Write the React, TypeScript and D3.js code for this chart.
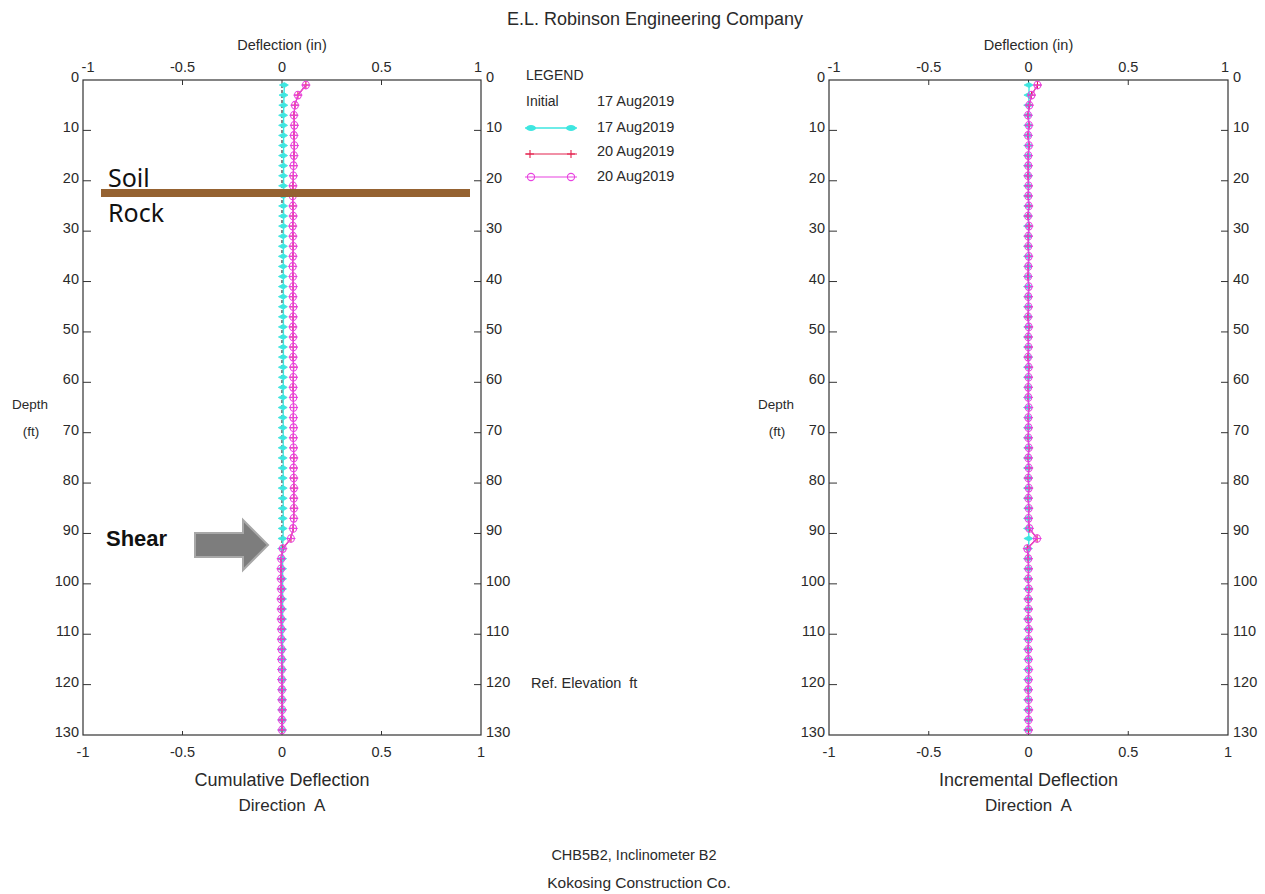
import React from "react";
import * as d3 from "d3";

// ---------- data ----------
const depths = [1, 3, 5, 7, 9, 11, 13, 15, 17, 19, 21, 23, 25, 27, 29, 31, 33, 35, 37, 39, 41, 43, 45, 47, 49, 51, 53, 55, 57, 59, 61, 63, 65, 67, 69, 71, 73, 75, 77, 79, 81, 83, 85, 87, 89, 91, 93, 95, 97, 99, 101, 103, 105, 107, 109, 111, 113, 115, 117, 119, 121, 123, 125, 127, 129];

// cumulative deflection (in)
const cumInitial = [0, 0, 0, 0, 0, 0, 0, 0, 0, 0, 0, 0, 0, 0, 0, 0, 0, 0, 0, 0, 0, 0, 0, 0, 0, 0, 0, 0, 0, 0, 0, 0, 0, 0, 0, 0, 0, 0, 0, 0, 0, 0, 0, 0, 0, 0, 0, 0, 0, 0, 0, 0, 0, 0, 0, 0, 0, 0, 0, 0, 0, 0, 0, 0, 0];
const cum17Aug = [0.012, 0.01, 0.009, 0.008, 0.008, 0.008, 0.008, 0.008, 0.008, 0.008, 0.008, 0.008, 0.008, 0.008, 0.008, 0.007, 0.007, 0.007, 0.007, 0.007, 0.007, 0.007, 0.007, 0.007, 0.007, 0.007, 0.007, 0.007, 0.007, 0.007, 0.006, 0.006, 0.006, 0.006, 0.006, 0.006, 0.006, 0.006, 0.006, 0.006, 0.006, 0.006, 0.006, 0.006, 0.006, 0.005, 0.003, 0.003, 0.003, 0.003, 0.003, 0.003, 0.003, 0.003, 0.003, 0.003, 0.003, 0.003, 0.003, 0.003, 0.003, 0.003, 0.003, 0.003, 0.003];
const cum20Aug = [0.12, 0.08, 0.065, 0.06, 0.062, 0.06, 0.062, 0.06, 0.058, 0.057, 0.055, 0.054, 0.055, 0.056, 0.054, 0.055, 0.056, 0.055, 0.054, 0.055, 0.056, 0.055, 0.057, 0.056, 0.055, 0.056, 0.057, 0.056, 0.058, 0.057, 0.056, 0.057, 0.058, 0.057, 0.058, 0.057, 0.058, 0.059, 0.058, 0.059, 0.06, 0.059, 0.06, 0.059, 0.056, 0.045, 0.004, -0.004, -0.005, -0.005, -0.004, -0.005, -0.004, -0.004, -0.003, -0.003, -0.002, -0.002, -0.001, -0.001, 0, 0, 0.001, 0, 0];

// incremental deflection (in)
const inc17Aug = [0.003, 0.002, 0.001, 0, 0.001, 0, 0.001, 0, 0, 0.001, 0, 0, 0.001, 0, 0, 0.001, 0, 0, 0.001, 0, 0, 0.001, 0, 0, 0.001, 0, 0, 0.001, 0, 0, 0.001, 0, 0, 0.001, 0, 0, 0.001, 0, 0, 0.001, 0, 0, 0.001, 0, 0, 0.002, 0, 0, 0.001, 0, 0, 0.001, 0, 0, 0.001, 0, 0, 0.001, 0, 0, 0.001, 0, 0, 0.001, 0];
const inc20Aug = [0.045, 0.015, 0.004, -0.002, 0.002, -0.002, 0.002, -0.001, -0.001, -0.002, 0, -0.001, 0.001, -0.002, 0.002, -0.001, -0.001, 0.001, -0.001, -0.002, 0.001, -0.001, 0, -0.002, 0.001, -0.001, 0, -0.002, 0.001, 0, -0.001, -0.001, 0.001, -0.001, 0, -0.001, 0.001, -0.001, 0.001, -0.001, 0.001, -0.001, 0.001, 0, 0.004, 0.043, -0.006, -0.001, 0, -0.001, 0.001, -0.001, 0, -0.001, 0.001, 0, -0.001, 0, 0.001, 0, -0.001, 0, 0.001, 0, 0];

const xTicks = [-1, -0.5, 0, 0.5, 1];
const depthTicks = [0, 10, 20, 30, 40, 50, 60, 70, 80, 90, 100, 110, 120, 130];

const legendRows = [
  { label: "Initial", date: "17 Aug2019", kind: "initial" },
  { label: "", date: "17 Aug2019", kind: "cyan" },
  { label: "", date: "20 Aug2019", kind: "red" },
  { label: "", date: "20 Aug2019", kind: "magenta" },
];

// ---------- styles ----------
const FONT = "'Liberation Sans', Arial, sans-serif";
const TXT = "#2a2a2a";
const CYAN = "#3ee6e0";
const RED = "#e3224e";
const MAGENTA = "#e843e0";
const AXIS = "#333";
const TICK_FS = 14.5;

const yScale = d3.scaleLinear().domain([0, 130]).range([80, 735]);

type Pt = [number, number];

function CyanMarker({ x, y }: { x: number; y: number }) {
  return <path d={`M${x - 5},${y} L${x},${y - 2.5} L${x + 4},${y} L${x},${y + 2.5} Z`} fill={CYAN} stroke={CYAN} strokeWidth={0.8} />;
}
function RedMarker({ x, y }: { x: number; y: number }) {
  return (
    <g stroke={RED} strokeWidth={1.1}>
      <line x1={x - 4} x2={x + 4} y1={y} y2={y} />
      <line x1={x} x2={x} y1={y - 4} y2={y + 4} />
    </g>
  );
}
function MagentaMarker({ x, y }: { x: number; y: number }) {
  return (
    <g stroke={MAGENTA} strokeWidth={1.1} fill="none">
      <ellipse cx={x} cy={y} rx={3.4} ry={3.8} />
      <line x1={x - 4.5} x2={x + 4.5} y1={y} y2={y} />
    </g>
  );
}

function Panel({
  x0,
  x1,
  series,
  showInitial,
  titleLines,
}: {
  x0: number;
  x1: number;
  series: { cyan: number[]; red: number[] };
  showInitial: boolean;
  titleLines: string[];
}) {
  const xs = d3.scaleLinear().domain([-1, 1]).range([x0, x1]);
  const line = d3
    .line<Pt>()
    .x((d) => xs(d[0]))
    .y((d) => yScale(d[1]));
  const cyanPts: Pt[] = depths.map((d, i) => [series.cyan[i], d]);
  const redPts: Pt[] = depths.map((d, i) => [series.red[i], d]);
  const initPts: Pt[] = depths.map((d, i) => [cumInitial[i], d]);
  const top = yScale(0);
  const bot = yScale(130);
  const cx = xs(0);
  return (
    <g>
      {/* frame */}
      <rect x={x0} y={top} width={x1 - x0} height={bot - top} fill="none" stroke={AXIS} strokeWidth={1.2} />
      {/* x ticks */}
      {xTicks.map((t) => (
        <g key={"xt" + t}>
          {t !== -1 && t !== 1 && (
            <>
              <line x1={xs(t)} x2={xs(t)} y1={top} y2={top + 5} stroke={AXIS} />
              <line x1={xs(t)} x2={xs(t)} y1={bot - 4} y2={bot} stroke={AXIS} />
            </>
          )}
          <text
            x={xs(t) + (t === -1 ? 5 : t === 1 ? -3 : 0)}
            y={72}
            textAnchor="middle"
            fontFamily={FONT}
            fontSize={TICK_FS}
            fill={TXT}
          >
            {String(t)}
          </text>
          <text x={xs(t)} y={757} textAnchor="middle" fontFamily={FONT} fontSize={TICK_FS} fill={TXT}>
            {String(t)}
          </text>
        </g>
      ))}
      {/* depth ticks */}
      {depthTicks.map((t) => (
        <g key={"yt" + t}>
          {t !== 0 && t !== 130 && (
            <>
              <line x1={x0} x2={x0 + 8} y1={yScale(t)} y2={yScale(t)} stroke={AXIS} />
              <line x1={x1 - 7} x2={x1} y1={yScale(t)} y2={yScale(t)} stroke={AXIS} />
            </>
          )}
          <text x={x0 - 4} y={yScale(t) + 2} textAnchor="end" fontFamily={FONT} fontSize={TICK_FS} fill={TXT}>
            {t}
          </text>
          <text x={x1 + 5} y={yScale(t) + 2} textAnchor="start" fontFamily={FONT} fontSize={TICK_FS} fill={TXT}>
            {t}
          </text>
        </g>
      ))}
      {/* axis titles */}
      <text x={cx} y={50} textAnchor="middle" fontFamily={FONT} fontSize={14.5} fill={TXT}>
        Deflection (in)
      </text>
      <text x={x0 - 53} y={409} textAnchor="middle" fontFamily={FONT} fontSize={13.5} fill={TXT}>
        Depth
      </text>
      <text x={x0 - 52} y={436} textAnchor="middle" fontFamily={FONT} fontSize={13.5} fill={TXT}>
        (ft)
      </text>
      {titleLines.map((s, i) => (
        <text key={s} x={cx} y={786 + i * 25} textAnchor="middle" fontFamily={FONT} fontSize={i === 0 ? 18 : 17} fill={TXT} xmlSpace="preserve">
          {s}
        </text>
      ))}
      {/* data */}
      {showInitial && (
        <path d={line(initPts) || ""} fill="none" stroke="#111" strokeWidth={1} strokeDasharray="3,2" />
      )}
      <path d={line(cyanPts) || ""} fill="none" stroke={CYAN} strokeWidth={1.4} />
      {cyanPts.map((p, i) => (
        <CyanMarker key={"c" + i} x={xs(p[0])} y={yScale(p[1])} />
      ))}
      <path d={line(redPts) || ""} fill="none" stroke={RED} strokeWidth={1.2} />
      {redPts.map((p, i) => (
        <RedMarker key={"r" + i} x={xs(p[0])} y={yScale(p[1])} />
      ))}
      <path d={line(redPts) || ""} fill="none" stroke={MAGENTA} strokeWidth={1.1} />
      {redPts.map((p, i) => (
        <MagentaMarker key={"m" + i} x={xs(p[0])} y={yScale(p[1])} />
      ))}
    </g>
  );
}

export default function App() {
  return (
    <svg
      width={1265}
      height={894}
      viewBox="0 0 1265 894"
      style={{ position: "absolute", left: 0, top: 0, background: "#fff" }}
    >
      <rect x={0} y={0} width={1265} height={894} fill="#fff" />
      <text x={655} y={25} textAnchor="middle" fontFamily={FONT} fontSize={18} fill={TXT}>
        E.L. Robinson Engineering Company
      </text>

      <Panel x0={83} x1={481} series={{ cyan: cum17Aug, red: cum20Aug }} showInitial={true} titleLines={["Cumulative Deflection", "Direction  A"]} />
      <Panel x0={829} x1={1228} series={{ cyan: inc17Aug, red: inc20Aug }} showInitial={false} titleLines={["Incremental Deflection", "Direction  A"]} />

      {/* legend */}
      <text x={526} y={80} fontFamily={FONT} fontSize={14} fill={TXT}>
        LEGEND
      </text>
      {legendRows.map((r, i) => {
        const y = [106, 132, 156, 181][i];
        const ly = [0, 128, 154, 177][i];
        return (
          <g key={"lg" + i}>
            {r.label && (
              <text x={526} y={y} fontFamily={FONT} fontSize={14} fill={TXT}>
                {r.label}
              </text>
            )}
            {r.kind === "cyan" && (
              <g>
                <line x1={525} x2={577} y1={ly} y2={ly} stroke={CYAN} strokeWidth={1.4} />
                <ellipse cx={531} cy={ly} rx={5} ry={3} fill={CYAN} />
                <ellipse cx={571} cy={ly} rx={5} ry={3} fill={CYAN} />
              </g>
            )}
            {r.kind === "red" && (
              <g>
                <line x1={525} x2={577} y1={ly} y2={ly} stroke={RED} strokeWidth={1.2} />
                <RedMarker x={530} y={ly} />
                <RedMarker x={571} y={ly} />
              </g>
            )}
            {r.kind === "magenta" && (
              <g>
                <line x1={525} x2={577} y1={ly} y2={ly} stroke={MAGENTA} strokeWidth={1.1} />
                <circle cx={531} cy={ly} r={3.6} fill="none" stroke={MAGENTA} strokeWidth={1.1} />
                <circle cx={571} cy={ly} r={3.6} fill="none" stroke={MAGENTA} strokeWidth={1.1} />
              </g>
            )}
            <text x={597} y={y} fontFamily={FONT} fontSize={14.5} fill={TXT}>
              {r.date}
            </text>
          </g>
        );
      })}

      <text x={531} y={688} fontFamily={FONT} fontSize={14.5} fill={TXT} xmlSpace="preserve">
        Ref. Elevation  ft
      </text>

      {/* annotations */}
      <rect x={101} y={189} width={369} height={8} fill="#956231" />
      <text x={108} y={187} fontFamily="'Noto Sans', sans-serif" fontSize={25} fill="#111">
        Soil
      </text>
      <text x={108} y={222} fontFamily="'Noto Sans', sans-serif" fontSize={25} fill="#111">
        Rock
      </text>
      <text x={106} y={546} fontFamily={FONT} fontSize={22} fontWeight="bold" fill="#111">
        Shear
      </text>
      <path
        d="M195,533 L243,533 L243,520 L268,545 L243,570 L243,557 L195,557 Z"
        fill="#7d7d7d"
        stroke="#a8a8a8"
        strokeWidth={2}
      />

      <text x={634} y={860} textAnchor="middle" fontFamily={FONT} fontSize={14.5} fill={TXT}>
        CHB5B2, Inclinometer B2
      </text>
      <text x={639} y={888} textAnchor="middle" fontFamily={FONT} fontSize={15.5} fill={TXT}>
        Kokosing Construction Co.
      </text>
    </svg>
  );
}
